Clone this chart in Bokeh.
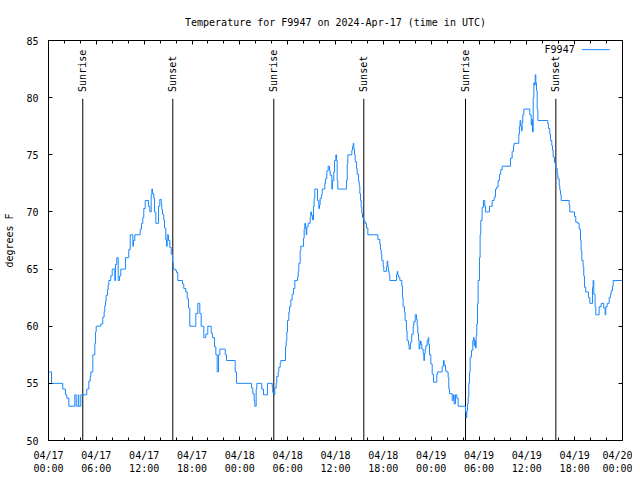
import math
from bokeh.plotting import figure
from bokeh.models import (LinearAxis, FixedTicker, Range1d, Label, Arrow, ColumnDataSource,
                          CustomJSTickFormatter)
from bokeh.core.properties import value
from bokeh.embed import file_html
from bokeh.resources import INLINE

# ---- data (hours since 2024-04-17 00:00 UTC, temperature in deg F) ----
hours = [
    0.00, 0.38, 1.79, 2.13, 2.30, 2.55, 3.30, 3.47, 3.73, 3.80, 4.05, 4.80, 5.06, 5.23, 5.31,
    5.56, 5.81, 5.90, 5.98, 6.56, 6.81, 6.98, 7.06, 7.15, 7.23, 7.40, 7.49, 7.57, 7.81, 7.99,
    8.32, 8.40, 8.57, 8.74, 8.91, 9.07, 9.66, 10.07, 10.25, 10.58, 10.66, 10.83, 11.50, 11.67,
    11.83, 11.95, 12.13, 12.54, 12.71, 12.88, 12.96, 13.05, 13.21, 13.30, 13.46, 13.80, 13.96,
    14.14, 14.21, 14.30, 14.46, 14.55, 14.71, 14.80, 14.89, 15.05, 15.22, 15.39, 15.55, 15.64,
    15.89, 16.06, 16.22, 16.81, 16.97, 17.22, 17.40, 17.56, 17.72, 18.48, 18.73, 18.98, 19.15,
    19.48, 19.73, 19.98, 20.41, 20.57, 20.82, 20.99, 21.16, 21.33, 21.49, 22.17, 22.33, 23.42,
    23.58, 25.46, 25.63, 25.80, 25.88, 26.05, 26.13, 26.75, 26.97, 27.47, 28.06, 28.13, 28.31,
    28.38, 28.56, 28.63, 28.81, 28.89, 29.06, 29.14, 29.73, 29.81, 29.89, 29.98, 30.14, 30.23,
    30.40, 30.56, 30.73, 30.90, 31.23, 31.32, 31.40, 31.57, 31.65, 31.99, 32.07, 32.15, 32.24,
    32.32, 32.40, 32.57, 32.82, 32.90, 32.99, 33.12, 33.24, 33.32, 33.40, 33.74, 33.91, 33.99,
    34.07, 34.24, 34.33, 34.66, 34.74, 34.91, 35.08, 35.25, 35.33, 35.54, 35.63, 35.79, 35.88,
    36.04, 36.13, 36.21, 36.29, 37.38, 37.47, 37.55, 38.05, 38.13, 38.22, 38.30, 38.38, 38.47,
    38.64, 38.72, 38.89, 38.97, 39.05, 39.14, 39.22, 39.30, 39.39, 39.55, 39.72, 39.89, 40.06,
    41.31, 41.56, 41.64, 41.73, 41.81, 41.98, 42.06, 42.40, 42.48, 42.56, 42.64, 42.73, 42.81,
    43.65, 43.73, 43.81, 43.90, 44.07, 44.32, 44.40, 44.48, 44.65, 44.73, 44.90, 44.98, 45.15,
    45.23, 45.40, 45.56, 45.75, 45.82, 46.00, 46.16, 46.25, 46.32, 46.41, 46.49, 46.58, 46.66,
    46.74, 46.83, 47.00, 47.08, 47.16, 47.25, 47.33, 47.50, 47.63, 47.70, 47.79, 47.96, 48.13,
    48.29, 48.71, 48.79, 49.38, 49.55, 49.63, 49.80, 49.96, 50.13, 50.21, 50.30, 50.64, 50.80,
    50.88, 51.05, 51.22, 51.39, 52.31, 52.39, 52.47, 52.56, 52.64, 52.72, 52.81, 52.89, 53.06,
    53.22, 53.31, 53.39, 53.47, 53.56, 53.64, 53.72, 53.81, 53.89, 54.06, 54.14, 54.22, 54.39,
    54.56, 54.72, 54.81, 55.32, 55.65, 55.90, 56.07, 56.23, 56.40, 56.57, 56.73, 56.91, 57.95,
    58.16, 58.33, 58.40, 58.99, 59.07, 59.15, 59.24, 59.32, 59.41, 59.49, 59.62, 60.37, 60.55,
    60.63, 60.71, 60.80, 60.88, 60.96, 61.05, 61.13, 61.21, 61.30, 61.38, 62.63, 62.72, 62.88,
    62.97, 63.13, 63.22, 63.30, 63.47, 63.64, 63.81, 63.89, 64.06, 64.14, 64.22, 64.31, 65.31,
    65.39, 65.98, 66.14, 66.39, 66.56, 66.73, 66.81, 66.90, 67.06, 67.14, 67.23, 67.39, 67.73,
    67.90, 68.24, 68.31, 68.40, 68.56, 68.65, 69.07, 69.33, 69.65, 69.82, 69.90, 70.08, 70.33,
    70.49, 70.58, 70.74, 70.83, 72.00,
]
temp_f = [
    56, 55, 54.5, 54, 53.7, 53, 54, 53, 54, 53, 54, 54.5, 55.2, 55.6, 56,
    57.5, 58.5, 59.5, 60, 60.2, 60.8, 61.3, 61.8, 62.2, 62.7, 63.2, 63.6, 64, 64.4, 65,
    64, 65.4, 66, 64, 64.4, 65, 66, 66.7, 68, 67, 67.5, 68, 68.5, 69,
    69.5, 70.3, 71, 70.5, 70, 71.5, 72, 71.6, 71.2, 70, 69, 70.5, 71.1,
    70.7, 70.2, 69.8, 69.3, 68.6, 67.6, 67, 68, 67.5, 66.9, 66.3, 65.6, 65,
    64.9, 64.7, 64, 63.7, 63.3, 63, 62.4, 61.6, 60, 61.1, 62, 61.1, 60,
    59, 59.3, 60, 59.4, 59, 58.2, 57.5, 56, 57.5, 58, 57.5, 57, 56,
    55, 54.6, 54.1, 53.5, 53, 54.5, 55, 54.5, 54, 55, 54.7, 54.2, 54,
    54.6, 55, 55.6, 56, 56.4, 56.8, 57, 58.2, 58.7, 59.5, 60.5, 61.2, 61.7,
    62.3, 62.8, 63.3, 64, 64.3, 64.8, 65.5, 66.6, 67, 67.7, 68.5, 69, 68.6,
    68, 68.7, 69, 69.5, 70, 69.7, 69.3, 70.5, 71.2, 72, 71, 70.3, 70.6,
    71.2, 71.5, 72, 72.5, 72.9, 73.6, 74, 73.6, 73.2, 72, 72.75, 73.5, 74.5,
    75, 74.5, 72.75, 72, 72.75, 74.2, 75, 75.4, 75.7, 76, 75.5, 75, 74.4,
    73.8, 73.3, 72.7, 72.3, 71.6, 71, 70.4, 69.9, 69.5, 69.2, 69, 68.6, 68,
    67.6, 67.2, 66.7, 66.3, 65.75, 65.2, 64.8, 65.2, 65.7, 65.2, 64.8, 64.5, 64,
    64.5, 64.8, 64.5, 64.3, 64, 63.5, 62.5, 61.7, 61.2, 60.5, 59.6, 58.75, 58.4,
    58, 58.6, 59.3, 60, 60.4, 61, 60.6, 60, 59.4, 58.8, 58, 58.4, 58.7,
    58.4, 58, 57.6, 57, 57.6, 58, 58.3, 58.75, 59, 58.4, 57.5, 56.7, 55.8,
    55.1, 55.8, 56, 56.5, 57, 56.6, 56.1, 56, 55.5, 54.5, 54.1, 53.5, 54,
    53.2, 54, 53.7, 53, 52.5, 52, 52.6, 53.2, 53.8, 55, 56, 57.3, 57.9,
    58.75, 59, 58.3, 58.75, 58.1, 59.2, 60.2, 62, 64, 66, 68, 69.25, 70.4,
    71, 70.5, 70, 70.5, 71, 71.3, 72, 72.2, 72.75, 73.3, 73.7, 74, 74.7,
    75.3, 75.8, 76, 76.8, 77.5, 78, 77.5, 77.1, 77.8, 78.5, 79, 78.5, 77.6,
    78.1, 77, 80, 81.3, 81.1, 82, 81.3, 80.6, 79, 78, 77.7, 77.3, 76.8,
    76.25, 75.8, 75.4, 74.8, 74.3, 73.8, 73.3, 72.9, 72.3, 71.9, 71.5, 71, 70.6,
    70, 69.6, 69.1, 69, 68.5, 67.5, 66.6, 65.75, 65.2, 64.4, 63.4, 63, 62.5,
    62, 63.4, 64, 62.8, 61.7, 61, 61.7, 62, 61.6, 61, 61.7, 62, 62.5,
    62.8, 63.1, 63.5, 64, 64,
]

sunrise_hours = [4.30, 28.26, 52.31]
sunset_hours = [15.59, 39.55, 63.64]
sun_line_top = 79.9

tick_hours = [0, 6, 12, 18, 24, 30, 36, 42, 48, 54, 60, 66, 72]
tick_dates = ["04/17", "04/17", "04/17", "04/17", "04/18", "04/18", "04/18",
              "04/18", "04/19", "04/19", "04/19", "04/19", "04/20"]
tick_times = ["00:00", "06:00", "12:00", "18:00", "00:00", "06:00", "12:00",
              "18:00", "00:00", "06:00", "12:00", "18:00", "00:00"]
y_ticks = [50, 55, 60, 65, 70, 75, 80, 85]

series_name = "F9947"
title_text = "Temperature for F9947 on 2024-Apr-17 (time in UTC)"

FONT = "DejaVu Sans Mono"
FS = "10px"
LINE_COLOR = "#1a88ff"

p = figure(width=632, height=476, output_backend="svg", toolbar_location=None,
           x_range=Range1d(0, 72), y_range=Range1d(50, 85),
           min_border_left=48, min_border_right=10, min_border_top=40, min_border_bottom=32,
           x_axis_location=None, y_axis_location=None)
p.background_fill_color = "white"
p.border_fill_color = "white"
p.outline_line_color = "black"
p.outline_line_width = 1
p.xgrid.visible = False
p.ygrid.visible = False

p.title.text = title_text
p.title.align = "center"
p.title.text_font = FONT
p.title.text_font_size = FS
p.title.text_font_style = "normal"
p.title.text_color = "black"
p.title.standoff = 26

x_ticker = FixedTicker(ticks=tick_hours, minor_ticks=list(range(0, 73, 2)))
y_ticker = FixedTicker(ticks=y_ticks, minor_ticks=[])

overrides = {h: d + "\n" + t for h, d, t in zip(tick_hours, tick_dates, tick_times)}
blank = CustomJSTickFormatter(code="return '';")


def style_axis(ax, labels=True):
    ax.axis_line_color = None
    ax.major_tick_in = 4
    ax.major_tick_out = 0
    ax.minor_tick_in = 3
    ax.minor_tick_out = 0
    ax.major_tick_line_color = "black"
    ax.minor_tick_line_color = "black"
    ax.major_label_text_font = FONT
    ax.major_label_text_font_size = FS if labels else "0px"
    ax.major_label_text_color = "black"
    if not labels:
        ax.major_label_standoff = 0
        ax.formatter = blank


xb = LinearAxis(ticker=x_ticker, major_label_overrides=overrides)
style_axis(xb)
xb.major_label_standoff = 9
p.add_layout(xb, "below")

xt = LinearAxis(ticker=x_ticker)
style_axis(xt, labels=False)
p.add_layout(xt, "above")

yl = LinearAxis(ticker=y_ticker, axis_label="degrees F")
style_axis(yl)
yl.major_label_standoff = 10
yl.axis_label_text_font = FONT
yl.axis_label_text_font_size = FS
yl.axis_label_text_font_style = "normal"
yl.axis_label_text_color = "black"
yl.axis_label_standoff = 8
p.add_layout(yl, "left")

yr = LinearAxis(ticker=y_ticker)
style_axis(yr, labels=False)
p.add_layout(yr, "right")

# sunrise / sunset markers
sun_x = sunrise_hours + sunset_hours
sun_lbl = ["Sunrise"] * len(sunrise_hours) + ["Sunset"] * len(sunset_hours)
sun_src = ColumnDataSource(dict(x=sun_x, y0=[50] * len(sun_x), y1=[sun_line_top] * len(sun_x),
                                yt=[sun_line_top + 0.6] * len(sun_x), lbl=sun_lbl))
p.segment(x0="x", y0="y0", x1="x", y1="y1", source=sun_src, line_color="black", line_width=1)
p.text(x="x", y="yt", text="lbl", source=sun_src, angle=math.pi / 2,
       text_align="left", text_baseline="middle", text_font=value(FONT),
       text_font_size=value(FS), text_color="black")

# temperature series
p.step(hours, temp_f, mode="after", line_color=LINE_COLOR, line_width=1)

# gnuplot-style key (label then line sample), placed in the top-right corner
key_y = 84.2
p.add_layout(Label(x=66.0, y=key_y, text=series_name,
                   text_font=FONT, text_font_size=FS, text_color="black",
                   text_align="right", text_baseline="middle"))
p.add_layout(Arrow(end=None, start=None, x_start=66.9, y_start=key_y, x_end=70.4, y_end=key_y,
                   line_color=LINE_COLOR, line_width=1))

open("out.html", "w").write(file_html(p, INLINE))
